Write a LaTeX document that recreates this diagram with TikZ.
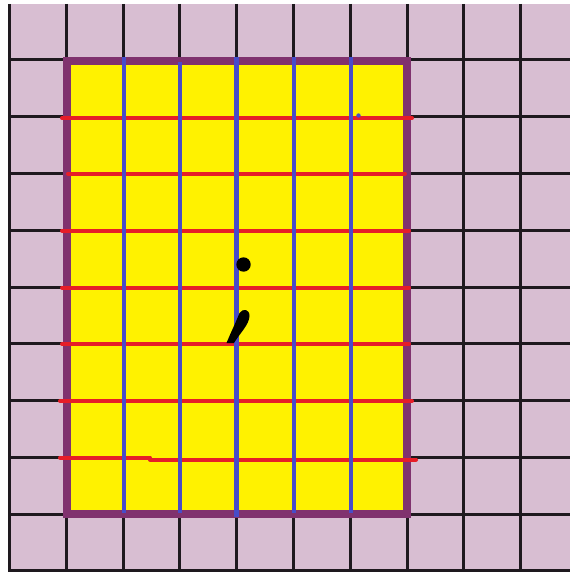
\documentclass[tikz,border=0pt]{standalone}
\definecolor{bgpink}{RGB}{216,190,210}
\definecolor{gridblack}{RGB}{30,25,30}
\definecolor{fillyellow}{RGB}{255,242,0}
\definecolor{framepurple}{RGB}{128,50,110}
\definecolor{lineblue}{RGB}{72,76,200}
\definecolor{linered}{RGB}{230,30,40}
\tikzset{
  gridline/.style={draw=gridblack,line width=3pt},
  frame/.style={draw=framepurple,fill=fillyellow,line width=8pt},
  redline/.style={draw=linered,line width=4pt,line cap=round},
  blueline/.style={draw=lineblue,line width=4.5pt},
  inkmark/.style={fill=black}
}
\begin{document}
\begin{tikzpicture}[x=1pt,y=-1pt]
\useasboundingbox (0,0) rectangle (570,572);
\fill[bgpink] (9,4) rectangle (570,572);
% black grid
\foreach \i in {0,...,9}{
  \draw[gridline] ({9.5+56.8*\i},4) -- ({9.5+56.8*\i},572);
  \draw[gridline] (9,{60+56.75*\i}) -- (570,{60+56.75*\i});
}
% yellow area with purple frame
\draw[frame] (66.5,61) rectangle (406.5,513.5);
% red horizontals
\draw[redline] (62,118) -- (412,118);
\draw[redline] (68,173.5) -- (405,173.5);
\draw[redline] (62,230.5) -- (409,230.5);
\draw[redline] (62,287.5) -- (409,287.5);
\draw[redline] (62,344) -- (409,344);
\draw[redline] (60,401) -- (412,401);
\draw[redline] (60,457.5) -- (150,457.5);
\draw[redline] (150,459.5) -- (416,459.5);
% blue verticals
\draw[blueline] (124,57) -- (124,513);
\draw[blueline] (180,62) -- (180,513);
\draw[blueline] (236.5,57) -- (236.5,517);
\draw[blueline] (294,57) -- (294,513);
\draw[blueline] (351,57) -- (351,513);
% small blue blob
\fill[lineblue] (358.5,115.5) circle (2.2);
% black semicolon-like marks
\fill[inkmark] (243.5,264.5) circle (7.2);
\fill[inkmark] (226.5,343) -- (234,343) .. controls (240,333) and (249,325) .. (249.5,316)
  .. controls (249.5,309) and (243,308) .. (239.5,313)
  .. controls (236,322) and (231,332) .. (226.5,343) -- cycle;
\end{tikzpicture}
\end{document}
